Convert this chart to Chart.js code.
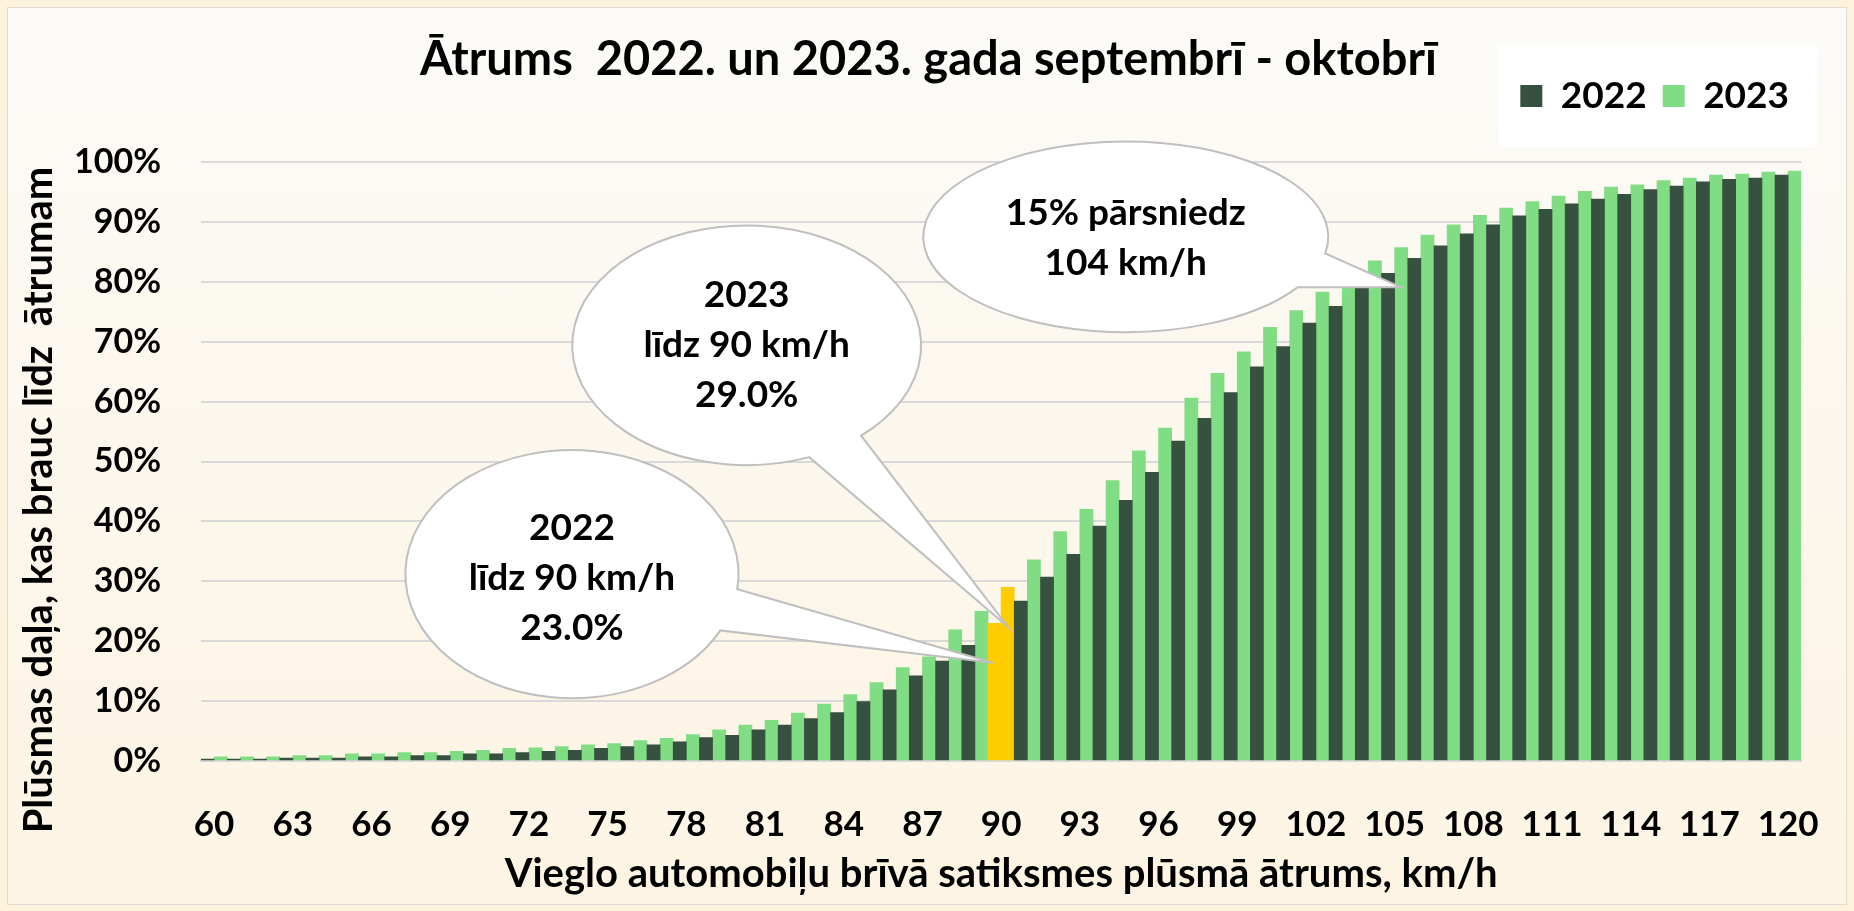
<!DOCTYPE html>
<html>
<head>
<meta charset="utf-8">
<script src="https://cdn.jsdelivr.net/npm/chart.js@4.4.1/dist/chart.umd.min.js"></script>
<style>
  html, body { margin: 0; padding: 0; width: 1854px; height: 911px; overflow: hidden; background: #fdf2dc; }
  .frame {
    position: absolute; left: 7px; top: 7px; width: 1840px; height: 898px; box-sizing: border-box;
    border: 1px solid #dedbd3;
    background: linear-gradient(to bottom, #fcfbf8 0%, #fcf8ef 40%, #fdf4e3 100%);
  }
  canvas { position: absolute; left: 0; top: 0; }
</style>
</head>
<body>
<div class="frame"></div>
<canvas id="chart" width="1854" height="911"></canvas>
<script>
// speeds on the x axis, km/h
const speeds = [60, 61, 62, 63, 64, 65, 66, 67, 68, 69, 70, 71, 72, 73, 74, 75, 76, 77, 78, 79, 80,
    81, 82, 83, 84, 85, 86, 87, 88, 89, 90, 91, 92, 93, 94, 95, 96, 97, 98, 99, 100,
    101, 102, 103, 104, 105, 106, 107, 108, 109, 110, 111, 112, 113, 114, 115, 116, 117, 118, 119, 120];

// cumulative share of traffic driving up to the speed, %
const share2022 = [0.3, 0.3, 0.3, 0.5, 0.5, 0.5, 0.7, 0.7, 0.9, 0.9, 1.2, 1.2, 1.4, 1.6, 1.8, 2.1, 2.4, 2.7, 3.2, 3.9, 4.3,
    5.2, 6.0, 7.1, 8.1, 9.9, 11.9, 14.2, 16.7, 19.3, 23.0, 26.7, 30.7, 34.5, 39.2, 43.5, 48.2, 53.4, 57.2, 61.5, 65.8,
    69.2, 73.1, 75.9, 78.9, 81.4, 83.9, 86.0, 88.0, 89.5, 91.0, 92.1, 93.0, 93.8, 94.6, 95.4, 96.0, 96.7, 97.1, 97.3, 97.8];

const share2023 = [0.7, 0.7, 0.7, 0.9, 0.9, 1.2, 1.2, 1.4, 1.4, 1.6, 1.8, 2.1, 2.2, 2.4, 2.7, 2.9, 3.4, 3.8, 4.4, 5.2, 6.0,
    6.8, 8.0, 9.5, 11.1, 13.1, 15.6, 17.4, 21.9, 25.0, 29.0, 33.6, 38.3, 42.0, 46.8, 51.8, 55.6, 60.6, 64.7, 68.3, 72.4,
    75.2, 78.3, 79.9, 83.5, 85.7, 87.8, 89.5, 91.1, 92.3, 93.4, 94.3, 95.1, 95.8, 96.2, 96.9, 97.3, 97.8, 98.0, 98.3, 98.5];

const seriesNames = ["2022", "2023"];
const speedLimit = 90;
const tickEvery = 3;

const DARK = "#36513f";
const LIGHT = "#81dd84";
const YELLOW = "#ffcc00";
const FONT = "Lato";

const limitIndex = speeds.indexOf(speedLimit);

// callouts: centre and radii in data units (category index / percent), pointer base angles in degrees
const callouts = [
    {
        lines: ["15% pārsniedz", "104 km/h"],
        cx: 34.75, cy: 87.5, rx: 7.72, ry: 15.9, a1: 10, a2: 32, tipX: 45.24, tipY: 79.1, dy: 1
    },
    {
        lines: ["2023", "līdz " + speedLimit + " km/h", share2023[limitIndex].toFixed(1) + "%"],
        cx: 20.3, cy: 69.4, rx: 6.65, ry: 20.0, a1: 49, a2: 69, tipX: 30.26, tipY: 22.4, dy: 0
    },
    {
        lines: ["2022", "līdz " + speedLimit + " km/h", share2022[limitIndex].toFixed(1) + "%"],
        cx: 13.64, cy: 31.2, rx: 6.35, ry: 20.7, a1: 7, a2: 27, tipX: 29.69, tipY: 16.4, dy: 4
    }
];

function barColour(base) {
    return function (ctx) {
        return ctx.dataIndex === limitIndex ? YELLOW : base;
    };
}

const legendLift = {
    id: "legendLift",
    afterLayout: function (chart) {
        // legend sits beside the title band, not under it
        chart.legend.top -= 37.5;
        chart.legend.bottom -= 37.5;
    },
    beforeDraw: function (chart) {
        const boxes = chart.legend.legendHitBoxes;
        if (!boxes || !boxes.length) {
            return;
        }
        const first = boxes[0];
        const last = boxes[boxes.length - 1];
        const ctx = chart.ctx;
        ctx.save();
        ctx.fillStyle = "#ffffff";
        ctx.fillRect(first.left - 22, first.top - 32.5, last.left + last.width - first.left + 50, first.height + 65);
        ctx.restore();
    }
};

const yTitle = {
    id: "yTitle",
    afterDraw: function (chart) {
        const ctx = chart.ctx;
        ctx.save();
        ctx.translate(39, 500);
        ctx.rotate(-Math.PI / 2);
        ctx.font = "bold 40px " + FONT;
        ctx.fillStyle = "#000";
        ctx.textAlign = "center";
        ctx.textBaseline = "middle";
        ctx.fillText("Plūsmas daļa, kas brauc līdz  ātrumam", 0, 0);
        ctx.restore();
    }
};

const calloutPlugin = {
    id: "callouts",
    afterDatasetsDraw: function (chart) {
        const ctx = chart.ctx;
        const xs = chart.scales.x;
        const ys = chart.scales.y;
        const cw = xs.getPixelForValue(1) - xs.getPixelForValue(0);
        const ph = ys.getPixelForValue(0) - ys.getPixelForValue(1);

        callouts.forEach(function (c) {
            const cx = xs.getPixelForValue(c.cx);
            const cy = ys.getPixelForValue(c.cy);
            const rx = c.rx * cw;
            const ry = c.ry * ph;
            const a1 = c.a1 * Math.PI / 180;
            const a2 = c.a2 * Math.PI / 180;

            ctx.save();
            ctx.beginPath();
            ctx.moveTo(xs.getPixelForValue(c.tipX), ys.getPixelForValue(c.tipY));
            ctx.lineTo(cx + rx * Math.cos(a1), cy + ry * Math.sin(a1));
            ctx.ellipse(cx, cy, rx, ry, 0, a1, a2, true);
            ctx.closePath();
            ctx.fillStyle = "#ffffff";
            ctx.fill();
            ctx.lineWidth = 2;
            ctx.strokeStyle = "#bfbfbf";
            ctx.stroke();

            ctx.font = "bold 37px " + FONT;
            ctx.fillStyle = "#000";
            ctx.textAlign = "center";
            ctx.textBaseline = "middle";
            const mid = (c.lines.length - 1) / 2;
            c.lines.forEach(function (t, k) {
                ctx.fillText(t, cx, cy + c.dy + (k - mid) * 50);
            });
            ctx.restore();
        });
    }
};

new Chart(document.getElementById("chart"), {
    type: "bar",
    data: {
        labels: speeds,
        datasets: [
            { label: seriesNames[0], data: share2022, backgroundColor: barColour(DARK) },
            { label: seriesNames[1], data: share2023, backgroundColor: barColour(LIGHT) }
        ]
    },
    options: {
        responsive: false,
        animation: false,
        devicePixelRatio: 1,
        events: [],
        layout: { padding: { left: 52, right: 49, top: 0, bottom: 0 } },
        datasets: {
            bar: { categoryPercentage: 1, barPercentage: 1, borderWidth: 0 }
        },
        plugins: {
            title: {
                display: true,
                text: "Ātrums  2022. un 2023. gada septembrī - oktobrī",
                color: "#000",
                font: { family: FONT, size: 47, weight: "bold" },
                padding: { top: 32, bottom: 10.6 }
            },
            legend: {
                display: true,
                position: "top",
                align: "end",
                labels: {
                    color: "#000",
                    font: { family: FONT, size: 37, weight: "bold" },
                    boxWidth: 22,
                    boxHeight: 22,
                    padding: 16
                }
            },
            tooltip: { enabled: false }
        },
        scales: {
            x: {
                grid: { display: false },
                border: { display: true, color: "#d9d9d9", width: 2 },
                ticks: {
                    autoSkip: false,
                    maxRotation: 0,
                    padding: 35,
                    color: "#000",
                    font: { family: FONT, size: 35, weight: "bold" },
                    callback: function (value, index) {
                        return index % tickEvery === 0 ? speeds[index] : "";
                    }
                },
                title: {
                    display: true,
                    text: "Vieglo automobiļu brīvā satiksmes plūsmā ātrums, km/h",
                    color: "#000",
                    font: { family: FONT, size: 40, weight: "bold" },
                    padding: { top: 0, bottom: 13 }
                },
                afterFit: function (scale) {
                    scale.height = 150;
                }
            },
            y: {
                min: 0,
                max: 100,
                grid: { color: "#d9d9d9", lineWidth: 2, drawTicks: false },
                border: { display: false },
                ticks: {
                    stepSize: 10,
                    padding: 40,
                    color: "#000",
                    font: { family: FONT, size: 34, weight: "bold" },
                    callback: function (value) {
                        return value + "%";
                    }
                },
                afterFit: function (scale) {
                    scale.width = 149;
                }
            }
        }
    },
    plugins: [legendLift, yTitle, calloutPlugin]
});
</script>
</body>
</html>
